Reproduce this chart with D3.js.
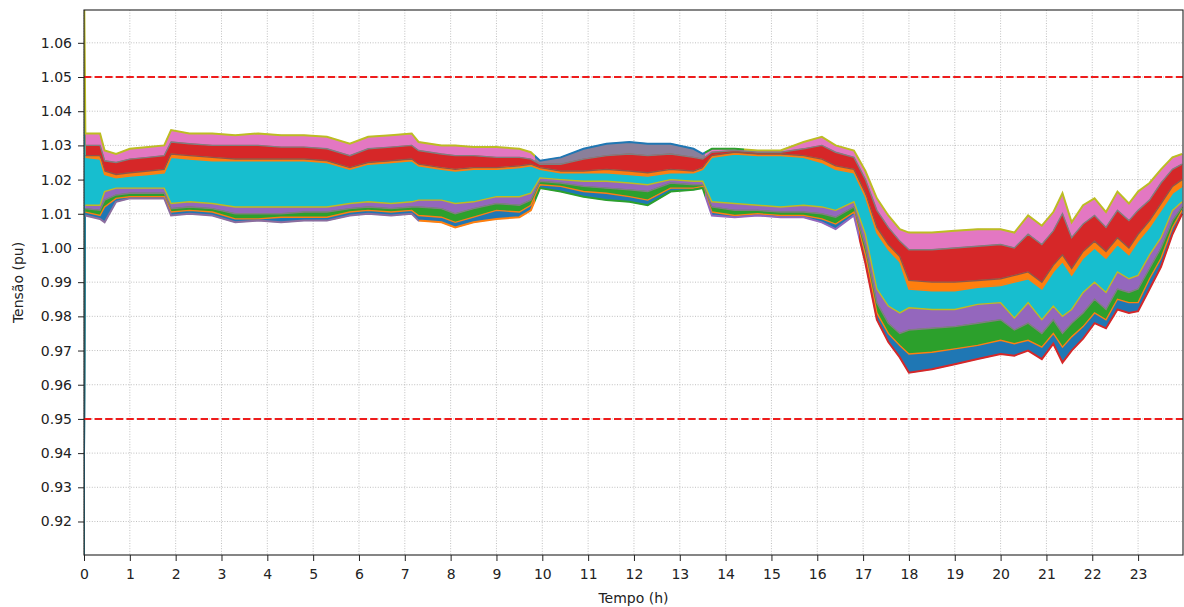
<!DOCTYPE html>
<html>
<head>
<meta charset="utf-8">
<script src="https://cdn.jsdelivr.net/npm/d3@7/dist/d3.min.js"></script>
<style>
  body { margin: 0; background: #fff; }
  svg { display: block; font-family: "DejaVu Sans", sans-serif; }
</style>
</head>
<body>
<div class="content"></div>
<script>
// hours of the day where the envelope was read
var hours = [0, 0.03, 0.35, 0.45, 0.7, 1.0, 1.4, 1.75, 1.9, 2.3,
    2.8, 3.3, 3.8, 4.3, 4.8, 5.3, 5.8, 6.2, 6.7, 7.15,
    7.3, 7.8, 8.1, 8.5, 9.0, 9.5, 9.75, 9.95, 10.4, 10.9,
    11.4, 11.9, 12.3, 12.8, 13.3, 13.5, 13.7, 14.2, 14.7, 15.2,
    15.7, 16.1, 16.4, 16.8, 17.05, 17.3, 17.55, 17.8, 18.0, 18.5,
    19.0, 19.5, 20.0, 20.3, 20.6, 20.9, 21.15, 21.35, 21.55, 21.8,
    22.05, 22.3, 22.55, 22.8, 23.0, 23.25, 23.5, 23.75, 23.96];

// voltage (pu) of the bus groups, from highest to lowest
var vTop = [1.08, 1.0335, 1.0335, 1.0285, 1.0275, 1.029, 1.0295, 1.030, 1.0345, 1.0335,
    1.0335, 1.033, 1.0335, 1.033, 1.033, 1.0325, 1.0305, 1.0325, 1.033, 1.0335,
    1.031, 1.030, 1.030, 1.0295, 1.0295, 1.029, 1.028, 1.0255, 1.0265, 1.029,
    1.0305, 1.031, 1.0305, 1.0305, 1.029, 1.0275, 1.029, 1.029, 1.0285, 1.0285,
    1.031, 1.0325, 1.030, 1.0285, 1.0225, 1.0145, 1.0095, 1.0055, 1.0045, 1.0045,
    1.005, 1.0055, 1.0055, 1.0045, 1.0095, 1.0065, 1.0105, 1.016, 1.0075, 1.0125,
    1.0145, 1.0105, 1.0165, 1.013, 1.0165, 1.019, 1.023, 1.0265, 1.0275];
var vPink = [1.05, 1.030, 1.030, 1.0255, 1.025, 1.026, 1.0265, 1.027, 1.031, 1.0305,
    1.030, 1.030, 1.030, 1.0295, 1.0295, 1.029, 1.027, 1.029, 1.0295, 1.030,
    1.0285, 1.0275, 1.027, 1.027, 1.0265, 1.0265, 1.026, 1.0245, 1.0245, 1.026,
    1.027, 1.0275, 1.027, 1.0275, 1.0265, 1.026, 1.028, 1.0285, 1.028, 1.028,
    1.029, 1.030, 1.028, 1.0265, 1.020, 1.011, 1.006, 1.002, 0.9995, 0.9995,
    1.000, 1.0005, 1.001, 1.000, 1.004, 1.001, 1.005, 1.010, 1.003, 1.007,
    1.0095, 1.006, 1.011, 1.008, 1.011, 1.014, 1.019, 1.023, 1.0245];
var vRed = [1.05, 1.027, 1.027, 1.0225, 1.0215, 1.022, 1.0225, 1.023, 1.0275, 1.027,
    1.0265, 1.026, 1.026, 1.026, 1.026, 1.0255, 1.0235, 1.025, 1.0255, 1.026,
    1.0245, 1.0235, 1.023, 1.0235, 1.0235, 1.024, 1.0245, 1.0235, 1.0225, 1.0225,
    1.023, 1.0225, 1.022, 1.023, 1.0225, 1.0235, 1.027, 1.028, 1.0275, 1.0275,
    1.027, 1.026, 1.024, 1.023, 1.016, 1.006, 1.001, 0.9975, 0.9905, 0.990,
    0.990, 0.9905, 0.991, 0.992, 0.993, 0.990, 0.995, 0.998, 0.994, 0.999,
    1.002, 0.999, 1.003, 1.000, 1.004, 1.008, 1.013, 1.018, 1.020];
var vOrange = [1.05, 1.0265, 1.026, 1.0215, 1.0205, 1.021, 1.0215, 1.022, 1.0265, 1.026,
    1.0255, 1.0255, 1.0255, 1.0255, 1.0255, 1.025, 1.023, 1.0245, 1.025, 1.0255,
    1.024, 1.023, 1.0225, 1.023, 1.023, 1.0235, 1.024, 1.023, 1.022, 1.022,
    1.022, 1.0215, 1.021, 1.022, 1.022, 1.023, 1.0265, 1.0275, 1.027, 1.027,
    1.0265, 1.025, 1.023, 1.022, 1.015, 1.0045, 0.9995, 0.996, 0.988, 0.9875,
    0.9875, 0.9885, 0.989, 0.990, 0.991, 0.988, 0.993, 0.996, 0.992, 0.997,
    1.000, 0.997, 1.001, 0.998, 1.002, 1.006, 1.011, 1.016, 1.018];
var vCyan = [0.90, 1.0125, 1.0125, 1.0165, 1.0175, 1.0175, 1.0175, 1.0175, 1.013, 1.0135,
    1.013, 1.012, 1.012, 1.012, 1.012, 1.012, 1.013, 1.0135, 1.013, 1.0135,
    1.014, 1.014, 1.013, 1.0135, 1.015, 1.015, 1.016, 1.0205, 1.020, 1.0195,
    1.0195, 1.019, 1.0185, 1.020, 1.0195, 1.0195, 1.0135, 1.013, 1.0125, 1.012,
    1.0125, 1.012, 1.011, 1.0135, 1.004, 0.988, 0.983, 0.981, 0.9825, 0.982,
    0.982, 0.9835, 0.984, 0.9795, 0.984, 0.979, 0.983, 0.980, 0.982, 0.987,
    0.990, 0.987, 0.993, 0.991, 0.992, 0.998, 1.003, 1.011, 1.0135];
var vPurple = [0.90, 1.0115, 1.011, 1.014, 1.0155, 1.016, 1.016, 1.016, 1.0115, 1.012,
    1.0115, 1.010, 1.010, 1.010, 1.0105, 1.0105, 1.0115, 1.012, 1.0115, 1.012,
    1.012, 1.0115, 1.010, 1.0115, 1.013, 1.0125, 1.014, 1.0195, 1.019, 1.018,
    1.0175, 1.017, 1.0165, 1.019, 1.0185, 1.0185, 1.012, 1.011, 1.011, 1.0105,
    1.0105, 1.010, 1.009, 1.012, 1.0005, 0.984, 0.978, 0.975, 0.976, 0.9765,
    0.977, 0.978, 0.979, 0.976, 0.978, 0.975, 0.979, 0.975, 0.978, 0.981,
    0.985, 0.982, 0.988, 0.987, 0.988, 0.994, 1.000, 1.008, 1.012];
var vGreen = [0.90, 1.0105, 1.0095, 1.012, 1.0145, 1.015, 1.015, 1.015, 1.0105, 1.011,
    1.0105, 1.0085, 1.0085, 1.009, 1.009, 1.009, 1.0105, 1.011, 1.0105, 1.011,
    1.0095, 1.009, 1.0075, 1.009, 1.011, 1.0105, 1.0125, 1.0185, 1.018, 1.0165,
    1.016, 1.015, 1.014, 1.0175, 1.0175, 1.018, 1.0105, 1.0095, 1.010, 1.0095,
    1.0095, 1.0085, 1.007, 1.0105, 0.998, 0.981, 0.975, 0.9715, 0.969, 0.9695,
    0.9705, 0.9715, 0.973, 0.972, 0.973, 0.971, 0.975, 0.971, 0.974, 0.977,
    0.981, 0.979, 0.985, 0.984, 0.984, 0.991, 0.997, 1.006, 1.011];
var vBottom = [0.90, 1.0095, 1.0085, 1.0075, 1.0135, 1.0145, 1.0145, 1.0145, 1.0095, 1.010,
    1.0095, 1.0075, 1.008, 1.0075, 1.008, 1.008, 1.0095, 1.010, 1.0095, 1.010,
    1.008, 1.0075, 1.006, 1.0075, 1.0085, 1.009, 1.011, 1.0175, 1.0165, 1.015,
    1.014, 1.0135, 1.0125, 1.0165, 1.017, 1.0175, 1.0095, 1.009, 1.0095, 1.009,
    1.009, 1.0075, 1.0055, 1.0095, 0.9955, 0.979, 0.9725, 0.968, 0.9635, 0.9645,
    0.966, 0.9675, 0.969, 0.9685, 0.970, 0.9675, 0.972, 0.9665, 0.970, 0.9735,
    0.978, 0.9765, 0.982, 0.981, 0.9815, 0.988, 0.9945, 1.004, 1.010];

var limits = [1.05, 0.95];
var xTicks = d3.range(0, 24);
var yTicks = [0.92, 0.93, 0.94, 0.95, 0.96, 0.97, 0.98, 0.99, 1.00, 1.01, 1.02, 1.03, 1.04, 1.05, 1.06];

var bounds = [vTop, vPink, vRed, vOrange, vCyan, vPurple, vGreen, vBottom];
var bandColors = ['url(#gPink)', '#d62728', '#ff7f0e', '#17becf', '#9467bd', '#2ca02c', '#1f77b4'];
var edgeColors = ['url(#gTop)', '#7f7f7f', '#8c564b', '#ff7f0e', '#bcbd22', '#7f7f7f', '#ff7f0e', 'url(#gBottom)'];

var W = 1184, H = 607;
var m = {left: 84, right: 1183, top: 10, bottom: 555};

var svg = d3.select('.content').append('svg')
    .attr('width', W)
    .attr('height', H);
svg.append('rect').attr('width', W).attr('height', H).attr('fill', '#fff');

var x = d3.scaleLinear().domain([0, 23.98]).range([m.left, m.right]);
var y = d3.scaleLinear().domain([0.9102, 1.0696]).range([m.bottom, m.top]);

var defs = svg.append('defs');
defs.append('clipPath').attr('id', 'plot')
    .append('rect')
    .attr('x', m.left).attr('y', m.top)
    .attr('width', m.right - m.left).attr('height', m.bottom - m.top);

// colour changes of a group along the day (hard stops)
function gradient(id, stops) {
    var g = defs.append('linearGradient').attr('id', id)
        .attr('gradientUnits', 'userSpaceOnUse')
        .attr('x1', m.left).attr('x2', m.right).attr('y1', 0).attr('y2', 0);
    stops.forEach(function(s, i) {
        var from = (x(s[0]) - m.left) / (m.right - m.left);
        var to = i < stops.length - 1 ? (x(stops[i + 1][0]) - m.left) / (m.right - m.left) : 1;
        g.append('stop').attr('offset', from).attr('stop-color', s[1]);
        g.append('stop').attr('offset', to).attr('stop-color', s[1]);
    });
}
gradient('gTop', [[0, '#bcbd22'], [9.85, '#1f77b4'], [13.55, '#2ca02c'], [14.4, '#bcbd22']]);
gradient('gPink', [[0, '#e377c2'], [9.85, '#8a7f9a'], [13.55, '#e377c2']]);
gradient('gBottom', [[0, '#8c6d9e'], [7.3, '#ff7f0e'], [9.85, '#2ca02c'], [13.55, '#9467bd'], [16.9, '#d62728']]);

// grid
var grid = svg.append('g')
    .attr('stroke', '#b0b0b0')
    .attr('stroke-width', 0.8)
    .attr('stroke-dasharray', '1,1.6');
grid.selectAll('.gx').data(xTicks).join('line')
    .attr('x1', function(d) { return x(d); }).attr('x2', function(d) { return x(d); })
    .attr('y1', m.top).attr('y2', m.bottom);
grid.selectAll('.gy').data(yTicks).join('line')
    .attr('x1', m.left).attr('x2', m.right)
    .attr('y1', function(d) { return y(d); }).attr('y2', function(d) { return y(d); });

var plot = svg.append('g').attr('clip-path', 'url(#plot)');

var rows = hours.map(function(h, i) {
    return {h: h, v: bounds.map(function(b) { return b[i]; })};
});

bandColors.forEach(function(c, k) {
    var area = d3.area()
        .x(function(d) { return x(d.h); })
        .y0(function(d) { return y(d.v[k + 1]); })
        .y1(function(d) { return y(d.v[k]); });
    plot.append('path')
        .attr('d', area(rows))
        .attr('fill', c)
        .attr('stroke', c)
        .attr('stroke-width', 0.6);
});

// edge lines; only the top one keeps the start transient
edgeColors.forEach(function(c, k) {
    var line = d3.line()
        .x(function(d) { return x(d.h); })
        .y(function(d) { return y(d.v[k]); });
    plot.append('path')
        .attr('d', line(k == 0 ? rows : rows.slice(1)))
        .attr('fill', 'none')
        .attr('stroke', c)
        .attr('stroke-width', k == 0 || k == 7 ? 2 : 1.4);
});

// voltage limits
plot.selectAll('.lim').data(limits).join('line')
    .attr('x1', m.left).attr('x2', m.right)
    .attr('y1', function(d) { return y(d); }).attr('y2', function(d) { return y(d); })
    .attr('stroke', '#ee1c1c')
    .attr('stroke-width', 2)
    .attr('stroke-dasharray', '7.4,3.2');

// axes
var xAxis = svg.append('g')
    .attr('transform', 'translate(0,' + m.bottom + ')')
    .call(d3.axisBottom(x).tickValues(xTicks).tickSize(6).tickPadding(8).tickFormat(d3.format('d')));
var yAxis = svg.append('g')
    .attr('transform', 'translate(' + m.left + ',0)')
    .call(d3.axisLeft(y).tickValues(yTicks).tickSize(6).tickPadding(6).tickFormat(d3.format('.2f')));
[xAxis, yAxis].forEach(function(a) {
    a.select('.domain').remove();
    a.selectAll('text').attr('font-family', '"DejaVu Sans", sans-serif').attr('font-size', 14).attr('fill', '#222');
    a.selectAll('line').attr('stroke', '#222').attr('stroke-width', 1);
});

svg.append('rect')
    .attr('x', m.left).attr('y', m.top)
    .attr('width', m.right - m.left).attr('height', m.bottom - m.top)
    .attr('fill', 'none')
    .attr('stroke', '#222')
    .attr('stroke-width', 1.1);

svg.append('text')
    .attr('x', (m.left + m.right) / 2).attr('y', 603)
    .attr('text-anchor', 'middle')
    .attr('font-size', 14).attr('fill', '#222')
    .text('Tempo (h)');
svg.append('text')
    .attr('transform', 'translate(23,' + (m.top + m.bottom) / 2 + ') rotate(-90)')
    .attr('text-anchor', 'middle')
    .attr('font-size', 14).attr('fill', '#222')
    .text('Tensão (pu)');
</script>
</body>
</html>
